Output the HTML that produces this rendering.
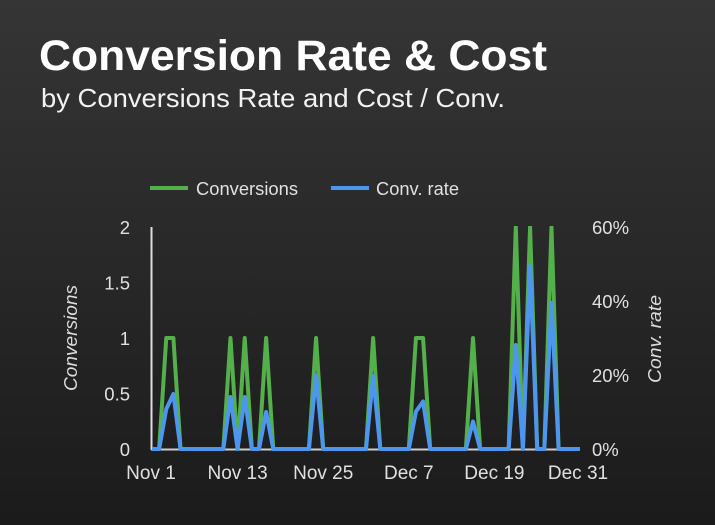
<!DOCTYPE html>
<html>
<head>
<meta charset="utf-8">
<style>
  html, body { margin: 0; padding: 0; width: 715px; height: 525px; overflow: hidden; background: #262626; }
  svg { display: block; }
  text { font-family: "Liberation Sans", "DejaVu Sans", sans-serif; }
</style>
</head>
<body>
<svg width="715" height="525" viewBox="0 0 715 525" xmlns="http://www.w3.org/2000/svg">
  <defs>
    <linearGradient id="bg" x1="0" y1="0" x2="0" y2="1">
      <stop offset="0" stop-color="#353535"/>
      <stop offset="1" stop-color="#1b1b1b"/>
    </linearGradient>
    <clipPath id="plot">
      <rect x="140" y="226" width="460" height="240"/>
    </clipPath>
  </defs>
  <rect x="0" y="0" width="715" height="525" fill="url(#bg)"/>

  <!-- Title -->
  <text x="39" y="70" font-size="43" font-weight="bold" fill="#ffffff" textLength="508" lengthAdjust="spacingAndGlyphs">Conversion Rate &amp; Cost</text>
  <text x="41" y="107" font-size="26" fill="#f2f2f2" textLength="464" lengthAdjust="spacingAndGlyphs">by Conversions Rate and Cost / Conv.</text>

  <!-- Legend -->
  <line x1="150" y1="188" x2="188" y2="188" stroke="#54b04a" stroke-width="4"/>
  <text x="196" y="195" font-size="18" fill="#e0e0e0" textLength="102" lengthAdjust="spacingAndGlyphs">Conversions</text>
  <line x1="331" y1="188" x2="369" y2="188" stroke="#4d96f0" stroke-width="4"/>
  <text x="376" y="195" font-size="18" fill="#e0e0e0" textLength="83" lengthAdjust="spacingAndGlyphs">Conv. rate</text>

  <!-- Left tick labels -->
  <g font-size="18.5" fill="#e0e0e0" text-anchor="end">
    <text x="130" y="234">2</text>
    <text x="130" y="289.5">1.5</text>
    <text x="130" y="345">1</text>
    <text x="130" y="400.5">0.5</text>
    <text x="130" y="456">0</text>
  </g>

  <!-- Right tick labels -->
  <g font-size="18.5" fill="#e0e0e0" text-anchor="start">
    <text x="592" y="234">60%</text>
    <text x="592" y="308">40%</text>
    <text x="592" y="382">20%</text>
    <text x="592" y="456">0%</text>
  </g>

  <!-- X tick labels -->
  <g font-size="19" fill="#e0e0e0" text-anchor="middle">
    <text x="151" y="479">Nov 1</text>
    <text x="237.6" y="479">Nov 13</text>
    <text x="323.2" y="479">Nov 25</text>
    <text x="408.8" y="479">Dec 7</text>
    <text x="494.4" y="479">Dec 19</text>
    <text x="578" y="479">Dec 31</text>
  </g>

  <!-- Axis titles -->
  <text transform="translate(77,338) rotate(-90)" font-size="18" font-style="italic" fill="#dcdcdc" text-anchor="middle" textLength="106" lengthAdjust="spacingAndGlyphs">Conversions</text>
  <text transform="translate(661,339) rotate(-90)" font-size="18" font-style="italic" fill="#dcdcdc" text-anchor="middle" textLength="88" lengthAdjust="spacingAndGlyphs">Conv. rate</text>

  <!-- Axes -->
  <line x1="151.5" y1="227" x2="151.5" y2="450" stroke="#dddddd" stroke-width="2"/>
  <line x1="151" y1="449.5" x2="580" y2="449.5" stroke="#cccccc" stroke-width="2"/>

  <g clip-path="url(#plot)" fill="none" stroke-linejoin="round" stroke-linecap="butt">
    <polyline stroke="#54b04a" stroke-width="4" points="152,449 159.13,449 166.27,338 173.4,338 180.53,449 223.33,449 230.47,338 237.6,449 244.73,338 251.87,449 259,449 266.13,338 273.27,449 308.93,449 316.07,338 323.2,449 365.99,449 373.13,338 380.27,449 408.8,449 415.93,338 423.07,338 430.2,449 465.87,449 473,338 480.13,449 508.67,449 515.8,227 522.93,449 530.07,227 537.2,449 544.33,449 551.47,227 558.6,449 580,449"/>
    <polyline stroke="#4d96f0" stroke-width="4" points="152,449 159.13,449 166.27,409 173.4,394 180.53,449 223.33,449 230.47,397 237.6,449 244.73,397 251.87,449 259,449 266.13,412 273.27,449 308.93,449 316.07,375.5 323.2,449 365.99,449 373.13,376 380.27,449 408.8,449 415.93,411.5 423.07,401.5 430.2,449 465.87,449 473,421.5 480.13,449 508.67,449 515.8,345 522.93,449 530.07,266 537.2,449 544.33,449 551.47,302.7 558.6,449 580,449"/>
  </g>
</svg>
</body>
</html>
